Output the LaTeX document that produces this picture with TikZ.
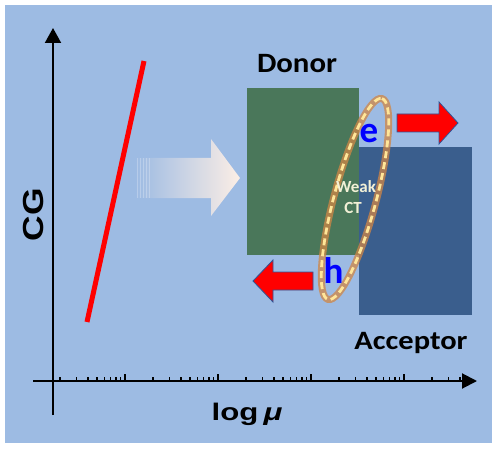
\documentclass[tikz,border=0pt]{standalone}
\usepackage{fontspec}
\setmainfont{Carlito}
\newfontfamily\arialf{Liberation Sans}
\usetikzlibrary{arrows.meta}
\definecolor{bgblue}{HTML}{9DBBE3}
\definecolor{donorc}{HTML}{4A775A}
\definecolor{acceptorc}{HTML}{3A5E8D}
\definecolor{ringc}{HTML}{D08645}
\definecolor{dashc}{HTML}{FFE699}
\definecolor{glowc}{HTML}{FCEEE5}
\definecolor{arrowedge}{HTML}{2F5597}
\definecolor{ctc}{HTML}{F2F0D6}
\tikzset{
  axisline/.style={line width=2pt, black},
  tickmark/.style={line width=1.4pt, black},
  block/.style={inner sep=0pt, outer sep=0pt},
  redblock/.style={fill=red, draw=arrowedge, line width=0.8pt, line join=miter},
  lbl/.style={inner sep=0pt, outer sep=0pt, anchor=base},
}
\begin{document}
\begin{tikzpicture}[x=1pt,y=-1pt]
\useasboundingbox (0,0) rectangle (500,449);
\fill[white] (0,0) rectangle (500,449);
\fill[bgblue] (5,5) rectangle (492,443);

% axes
\coordinate (ybot) at (53,415);
\coordinate (ytop) at (53,28);
\coordinate (xleft) at (33,381);
\coordinate (xright) at (477,381);
\draw[axisline, -{Triangle[length=15pt,width=16pt]}] (ybot) -- (ytop);
\draw[axisline, -{Triangle[length=15pt,width=15pt]}] (xleft) -- (xright);

% log ticks
\foreach \d in {32,125,218,311,404}{
  \foreach \k in {2,...,9}{
    \pgfmathsetmacro{\tx}{\d+93*log10(\k)}
    \pgfmathparse{\tx<462 ? 1 : 0}
    \ifnum\pgfmathresult=1
      \draw[tickmark] (\tx,381) -- (\tx,377);
    \fi
  }
}
\foreach \d in {125,218,311,404}{
  \draw[tickmark] (\d,381) -- (\d,374);
}

% red line
\coordinate (r1) at (87,322);
\coordinate (r2) at (144,61);
\draw[red, line width=5pt] (r1) -- (r2);

% fading white arrow
\shade[left color=bgblue, right color=glowc, shading angle=90]
  (135,158) -- (211,158) -- (211,139) -- (240,178) -- (211,216) -- (211,198) -- (135,198) -- cycle;
\foreach \sx in {137,140,143,146,149}{
  \draw[white, opacity=0.25, line width=1pt] (\sx,158) -- (\sx,198);
}

% donor / acceptor blocks
\node[block, fill=donorc, minimum width=112pt, minimum height=167pt] (donor) at (303,171.5) {};
\node[block, fill=acceptorc, minimum width=113pt, minimum height=168pt] (acceptor) at (415.5,231) {};

% red arrows
\fill[redblock] (397,114) -- (439,114) -- (439,102) -- (458,123) -- (439,144) -- (439,132) -- (397,132) -- cycle;
\fill[redblock] (313,272) -- (273,272) -- (273,260) -- (253,281) -- (273,302) -- (273,290) -- (313,290) -- cycle;

% CT ellipse
\coordinate (ct) at (355,199);
\draw[ringc, opacity=0.75, line width=7pt, rotate around={75:(ct)}] (ct) ellipse [x radius=104, y radius=21];
\draw[dashc, line width=2.8pt, dash pattern=on 7pt off 4pt, rotate around={75:(ct)}] (ct) ellipse [x radius=104, y radius=21];

% labels
\node[lbl] (donorlbl) at (297,73) {\fontsize{28}{30}\selectfont\bfseries\scalebox{1.1}[1]{Donor}};
\node[lbl] (acclbl) at (411,349) {\fontsize{26.5}{30}\selectfont\bfseries\scalebox{1.15}[1]{Acceptor}};
\node[lbl, rotate=90] (cglbl) at (43,215) {\arialf\fontsize{29}{30}\selectfont\bfseries\scalebox{1.22}[1]{CG}};
\node[lbl] (loglbl) at (247,420) {\arialf\fontsize{24}{28}\selectfont\bfseries\scalebox{1.3}[1]{log\,{\itshape μ}}};
\node[lbl, blue] (elbl) at (369,143) {\fontsize{37}{40}\selectfont\bfseries e};
\node[lbl, blue] (hlbl) at (333.5,283) {\fontsize{37}{40}\selectfont\bfseries h};
\node[lbl, ctc] (weak) at (356,193) {\fontsize{17}{18}\selectfont\bfseries Weak};
\node[lbl, ctc] (ctl) at (353,213) {\fontsize{17}{18}\selectfont\bfseries CT};
\end{tikzpicture}
\end{document}
